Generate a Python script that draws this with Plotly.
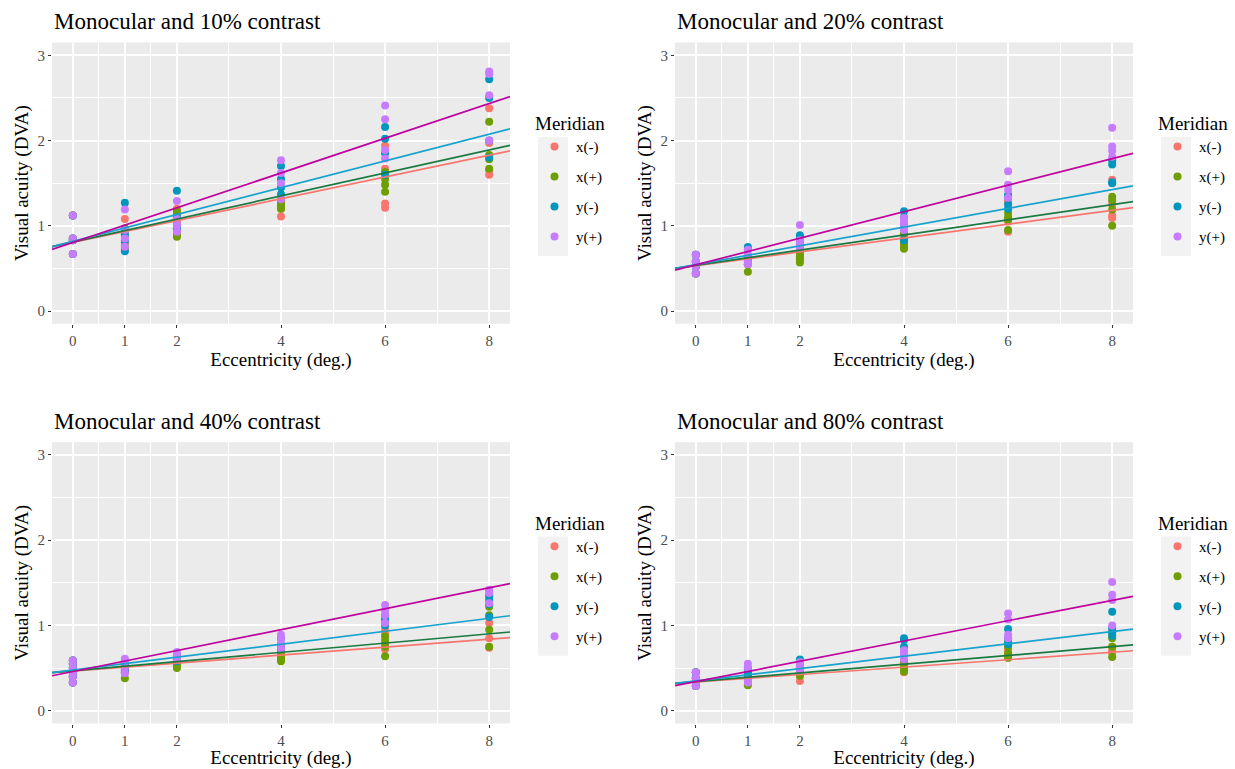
import plotly.graph_objects as go

# ---------------- data ----------------
MERIDIANS = ["x(-)", "x(+)", "y(-)", "y(+)"]
ECC = [1, 2, 4, 6, 8]                 # peripheral eccentricities (deg.)
X_TICKS = [0, 1, 2, 4, 6, 8]
Y_TICKS = [0, 1, 2, 3]
TITLES = ["Monocular and 10% contrast", "Monocular and 20% contrast",
          "Monocular and 40% contrast", "Monocular and 80% contrast"]

# foveal (0 deg.) acuities, shared by all meridians
fovea_10 = [1.12, 0.85, 0.83, 0.67]
fovea_20 = [0.66, 0.58, 0.52, 0.44]
fovea_40 = [0.59, 0.55, 0.50, 0.45, 0.40, 0.33]
fovea_80 = [0.45, 0.38, 0.35, 0.29]

# acuity per meridian: one list per eccentricity in ECC
va_10 = {
    "x(-)": [[1.08, 0.93, 0.72, 0.80], [1.20, 1.05, 0.95, 1.10], [1.11, 1.30, 1.25, 1.20],
             [1.94, 1.67, 1.26, 1.21], [2.38, 1.97, 1.60, 1.65]],
    "x(+)": [[0.97, 0.77, 0.88, 0.74], [1.17, 1.14, 0.87, 0.90], [1.26, 1.20, 1.23, 1.30],
             [1.63, 1.55, 1.48, 1.40], [2.22, 1.83, 1.78, 1.67]],
    "y(-)": [[1.27, 0.70, 0.90, 0.82], [1.41, 1.10, 1.00, 0.97], [1.70, 1.55, 1.37, 1.45],
             [2.16, 2.02, 1.85, 1.60], [2.72, 2.50, 2.00, 1.80]],
    "y(+)": [[1.19, 0.95, 0.85, 0.755], [1.29, 1.08, 1.00, 0.93], [1.77, 1.62, 1.50, 1.31],
             [2.41, 2.25, 1.89, 1.79], [2.81, 2.78, 2.53, 2.00]],
}
va_20 = {
    "x(-)": [[0.62, 0.57, 0.55, 0.60], [0.70, 0.65, 0.62, 0.75], [0.85, 0.78, 0.80, 0.90],
             [1.30, 1.27, 1.05, 0.93], [1.54, 1.25, 1.09, 1.12]],
    "x(+)": [[0.46, 0.60, 0.55, 0.65], [0.64, 0.60, 0.57, 0.68], [0.91, 0.80, 0.75, 0.73],
             [1.15, 1.10, 1.07, 0.95], [1.34, 1.30, 1.19, 1.00]],
    "y(-)": [[0.75, 0.72, 0.62, 0.58], [0.89, 0.86, 0.80, 0.76], [1.17, 1.10, 0.83, 1.00],
             [1.36, 1.34, 1.25, 1.20], [1.77, 1.72, 1.51, 1.50]],
    "y(+)": [[0.72, 0.65, 0.58, 0.55], [1.01, 0.83, 0.78, 0.74], [1.09, 1.05, 0.95, 1.02],
             [1.64, 1.48, 1.42, 1.33], [2.15, 1.93, 1.88, 1.81]],
}
va_40 = {
    "x(-)": [[0.55, 0.50, 0.45, 0.48], [0.58, 0.55, 0.60, 0.52], [0.65, 0.62, 0.70, 0.60],
             [0.95, 0.90, 0.78, 0.72], [1.36, 1.03, 0.85, 0.74]],
    "x(+)": [[0.38, 0.45, 0.50, 0.52], [0.50, 0.55, 0.58, 0.53], [0.67, 0.62, 0.58, 0.60],
             [0.87, 0.82, 0.75, 0.64], [1.22, 1.12, 0.95, 0.75]],
    "y(-)": [[0.58, 0.55, 0.50, 0.47], [0.65, 0.62, 0.58, 0.60], [0.85, 0.78, 0.72, 0.75],
             [1.08, 1.12, 1.00, 1.05], [1.34, 1.25, 1.10, 1.30]],
    "y(+)": [[0.61, 0.57, 0.50, 0.44], [0.69, 0.64, 0.60, 0.62], [0.89, 0.84, 0.78, 0.73],
             [1.24, 1.18, 1.12, 1.03], [1.42, 1.38, 1.26, 1.40]],
}
va_80 = {
    "x(-)": [[0.42, 0.40, 0.45, 0.38], [0.35, 0.45, 0.42, 0.50], [0.45, 0.50, 0.55, 0.48],
             [0.72, 0.65, 0.62, 0.70], [0.95, 0.75, 0.68, 0.70]],
    "x(+)": [[0.48, 0.30, 0.35, 0.40], [0.41, 0.48, 0.52, 0.45], [0.52, 0.46, 0.58, 0.50],
             [0.80, 0.67, 0.62, 0.75], [0.89, 0.85, 0.75, 0.63]],
    "y(-)": [[0.50, 0.45, 0.42, 0.38], [0.60, 0.55, 0.50, 0.48], [0.85, 0.83, 0.75, 0.65],
             [0.96, 0.85, 0.80, 0.78], [1.16, 0.97, 0.92, 0.88]],
    "y(+)": [[0.55, 0.50, 0.36, 0.33], [0.57, 0.50, 0.53, 0.47], [0.71, 0.65, 0.60, 0.68],
             [1.14, 1.07, 0.89, 0.85], [1.51, 1.36, 1.30, 1.00]],
}

# fitted lines (intercept, slope) per meridian, in MERIDIANS order
fit_int_10 = [0.806, 0.809, 0.818, 0.805]
fit_slope_10 = [0.1276, 0.135, 0.157, 0.2035]
fit_int_20 = [0.532, 0.536, 0.544, 0.542]
fit_slope_20 = [0.081, 0.089, 0.110, 0.1557]
fit_int_40 = [0.465, 0.468, 0.476, 0.459]
fit_slope_40 = [0.0467, 0.0542, 0.076, 0.123]
fit_int_80 = [0.337, 0.3405, 0.349, 0.341]
fit_slope_80 = [0.0436, 0.0513, 0.0725, 0.1192]

PANELS = [
    (fovea_10, va_10, fit_int_10, fit_slope_10),
    (fovea_20, va_20, fit_int_20, fit_slope_20),
    (fovea_40, va_40, fit_int_40, fit_slope_40),
    (fovea_80, va_80, fit_int_80, fit_slope_80),
]

# ---------------- style ----------------
W, H = 1235, 769
FONT = "Liberation Serif, Times New Roman, serif"
POINT_COLORS = ["#F8766D", "#6E9E00", "#0096BD", "#C77CFF"]
LINE_COLORS = ["#F8766D", "#1A7A42", "#17A3CE", "#C0009F"]
X_RANGE = [-0.4, 8.4]
Y_RANGE = [-0.15, 3.15]

PANEL_LEFT = [52, 675, 52, 675]
PANEL_TOP = [42.5, 42.5, 442.2, 442.2]
PANEL_W = 458
PANEL_H = 281.3


def px_x(v):
    return v / W


def px_y(v):
    return 1 - v / H


fig = go.Figure()
shapes = []
annotations = []
layout = {}

for i, (fovea, va, f_int, f_slope) in enumerate(PANELS):
    n = i + 1
    sfx = "" if n == 1 else str(n)
    left, top = PANEL_LEFT[i], PANEL_TOP[i]
    legend_name = "legend" + sfx

    for k, m in enumerate(MERIDIANS):
        xs = [0] * len(fovea)
        ys = list(fovea)
        for e, vals in zip(ECC, va[m]):
            xs += [e] * len(vals)
            ys += vals
        fig.add_trace(go.Scatter(
            x=xs, y=ys, mode="markers", name=m,
            marker=dict(color=POINT_COLORS[k], size=8, line=dict(width=0)),
            xaxis="x" + sfx, yaxis="y" + sfx,
            legend=legend_name, legendgroup=f"p{n}_{m}", showlegend=True,
        ))
    for k, m in enumerate(MERIDIANS):
        fig.add_trace(go.Scatter(
            x=X_RANGE, y=[f_int[k] + f_slope[k] * xv for xv in X_RANGE],
            mode="lines", line=dict(color=LINE_COLORS[k], width=1.7),
            xaxis="x" + sfx, yaxis="y" + sfx, showlegend=False, hoverinfo="skip",
        ))

    layout["xaxis" + sfx] = dict(
        domain=[px_x(left), px_x(left + PANEL_W)], anchor="y" + sfx,
        range=X_RANGE, tickmode="array", tickvals=X_TICKS,
        showgrid=True, gridcolor="white", gridwidth=1.6, zeroline=False,
        ticks="outside", ticklen=3, tickwidth=1.1, tickcolor="#333333",
        tickfont=dict(family=FONT, size=15, color="#4D4D4D"),
        minor=dict(tickmode="array", tickvals=[0.5, 1.5, 3, 5, 7], showgrid=True,
                   gridcolor="white", gridwidth=0.9, ticks=""),
        title=dict(text="Eccentricity (deg.)", font=dict(family=FONT, size=19, color="black"), standoff=1),
        showline=False, fixedrange=True,
    )
    layout["yaxis" + sfx] = dict(
        domain=[px_y(top + PANEL_H), px_y(top)], anchor="x" + sfx,
        range=Y_RANGE, tickmode="array", tickvals=Y_TICKS,
        showgrid=True, gridcolor="white", gridwidth=1.6, zeroline=False,
        ticks="outside", ticklen=3, tickwidth=1.1, tickcolor="#333333",
        tickfont=dict(family=FONT, size=15, color="#4D4D4D"),
        minor=dict(tickmode="array", tickvals=[0.5, 1.5, 2.5], showgrid=True,
                   gridcolor="white", gridwidth=0.9, ticks=""),
        title=dict(text="Visual acuity (DVA)", font=dict(family=FONT, size=19, color="black"), standoff=3),
        showline=False, fixedrange=True,
    )

    # legend
    layout[legend_name] = dict(
        x=px_x(left + PANEL_W + 23), xanchor="left",
        y=px_y(top + 63), yanchor="top",
        bgcolor="rgba(0,0,0,0)", borderwidth=0,
        title=dict(text="Meridian", font=dict(family=FONT, size=19, color="black")),
        font=dict(family=FONT, size=15, color="black"),
        tracegroupgap=7.5, itemsizing="trace", itemwidth=33,
    )
    # legend key background (ggplot style)
    kx0 = left + PANEL_W + 28
    ky0 = top + 94.2
    shapes.append(dict(type="rect", xref="paper", yref="paper",
                       x0=px_x(kx0), x1=px_x(kx0 + 30), y0=px_y(ky0), y1=px_y(ky0 + 119.3),
                       fillcolor="#F2F2F2", line=dict(width=0), layer="below"))
    # panel title
    annotations.append(dict(text=TITLES[i], xref="paper", yref="paper",
                            x=px_x(left), y=px_y(top - 20.5), xanchor="left", yanchor="middle",
                            showarrow=False, font=dict(family=FONT, size=23, color="black")))

fig.update_layout(
    width=W, height=H, margin=dict(l=0, r=0, t=0, b=0),
    paper_bgcolor="white", plot_bgcolor="#EBEBEB",
    shapes=shapes, annotations=annotations, **layout,
)

fig.write_html("out.html", config={"displayModeBar": False},
               post_script="document.body.style.margin='0px';")
